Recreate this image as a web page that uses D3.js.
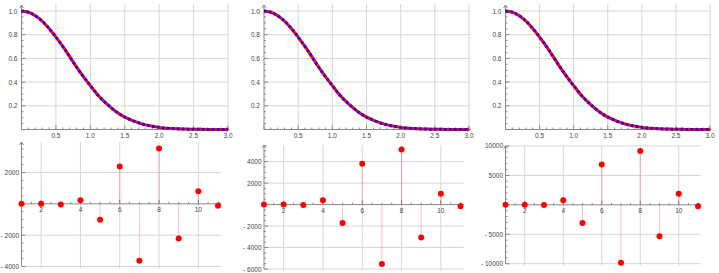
<!DOCTYPE html>
<meta charset="utf-8">
<style>
  body { margin: 0; background: white; }
  .tick-label { font-family: "Liberation Sans", Arial, sans-serif; font-size: 6.5px; fill: #444; }
  .grid { stroke: #d6d6d6; stroke-width: 1; }
  .axis-line { stroke: #888; stroke-width: 1; fill: none; }
</style>
<body>
<script src="https://cdn.jsdelivr.net/npm/d3@7"></script>
<script>

// curve (same in all three)
const curveX = [0, 0.125, 0.25, 0.375, 0.5, 0.625, 0.75, 0.875, 1.0, 1.125, 1.25, 1.375, 1.5, 1.75, 2.0, 2.25, 2.5, 2.75, 3.0]
const curveY = [1.0, 0.985, 0.94, 0.87, 0.78, 0.68, 0.57, 0.465, 0.37, 0.28, 0.21, 0.15, 0.105, 0.047, 0.018, 0.006, 0.002, 0.0005, 0.0001]

// stem values
const stemN = [1, 2, 3, 4, 5, 6, 7, 8, 9, 10, 11]
const seriesA = [0, 0, -40, 230, -1010, 2380, -3640, 3540, -2210, 800, -126]
const seriesB = [0, 0, -30, 406, -1720, 3810, -5530, 5125, -3060, 1000, -156]
const seriesC = [0, 0, -30, 795, -3070, 6870, -9830, 9150, -5340, 1875, -230]

const topXTicks = [0.5, 1.0, 1.5, 2.0, 2.5, 3.0]
const topYTicks = [0.2, 0.4, 0.6, 0.8, 1.0]
const stemXTicks = [2, 4, 6, 8, 10]

const panels = [
  {x0: 21.5, x1: 228, sx1: 218, series: seriesA, yDom: [-4000, 3950], yRange: [266.5, 142],
   yTicks: [-4000, -2000, 2000], yMinor: 500},
  {x0: 264, x1: 469, sx1: 460.5, series: seriesB, yDom: [-6000, 5550], yRange: [269, 145],
   yTicks: [-6000, -4000, -2000, 2000, 4000], yMinor: 500},
  {x0: 505.5, x1: 710, sx1: 698, series: seriesC, yDom: [-10000, 10050], yRange: [263.7, 145.7],
   yTicks: [-10000, -5000, 5000, 10000], yMinor: 1000}
]

const svg = d3.select("body").append("svg")
  .attr("width", 719)
  .attr("height", 273)

const fmt = v => v < 0 ? `- ${Math.abs(v)}` : `${v}`

function arrowUp(g, x, y) {
  g.append("path").attr("class", "axis-line")
    .attr("d", `M${x - 2},${y + 3}L${x},${y}L${x + 2},${y + 3}`)
}
function arrowRight(g, x, y) {
  g.append("path").attr("class", "axis-line")
    .attr("d", `M${x - 3},${y - 2}L${x},${y}L${x - 3},${y + 2}`)
}

panels.forEach(p => {
  // ---- upper plot
  const top = svg.append("g")
  const x = d3.scaleLinear().domain([0, 3]).range([p.x0, p.x1])
  const y = d3.scaleLinear().domain([0, 1]).range([129.5, 11])

  top.selectAll(".vgrid").data(topXTicks).enter().append("line")
    .attr("class", "grid")
    .attr("x1", d => x(d)).attr("x2", d => x(d))
    .attr("y1", 4).attr("y2", 129.5)
  top.selectAll(".hgrid").data(topYTicks).enter().append("line")
    .attr("class", "grid")
    .attr("x1", p.x0).attr("x2", p.x1 + 1)
    .attr("y1", d => y(d)).attr("y2", d => y(d))

  // axes
  top.append("line").attr("class", "axis-line")
    .attr("x1", p.x0).attr("x2", x(3.02)).attr("y1", y(0)).attr("y2", y(0))
  top.append("line").attr("class", "axis-line")
    .attr("x1", p.x0).attr("x2", p.x0).attr("y1", y(0)).attr("y2", 5)
  arrowRight(top, x(3.02), y(0))
  arrowUp(top, p.x0, 5)

  top.selectAll(".xminor").data(d3.range(0, 3.01, 0.1)).enter().append("line")
    .attr("class", "axis-line")
    .attr("x1", d => x(d)).attr("x2", d => x(d))
    .attr("y1", y(0)).attr("y2", d => y(0) - (Math.abs(d * 2 - Math.round(d * 2)) < 1e-6 ? 4 : 2))
  top.selectAll(".yminor").data(d3.range(0, 1.001, 0.05)).enter().append("line")
    .attr("class", "axis-line")
    .attr("y1", d => y(d)).attr("y2", d => y(d))
    .attr("x1", p.x0).attr("x2", d => p.x0 + (Math.abs(d * 5 - Math.round(d * 5)) < 1e-6 ? 4 : 2))

  top.selectAll(".xlab").data(topXTicks).enter().append("text")
    .attr("class", "tick-label")
    .attr("x", d => x(d)).attr("y", 137.5)
    .attr("text-anchor", "middle")
    .text(d => d.toFixed(1))
  top.selectAll(".ylab").data(topYTicks).enter().append("text")
    .attr("class", "tick-label")
    .attr("x", p.x0 - 4).attr("y", d => y(d) + 2.5)
    .attr("text-anchor", "end")
    .text(d => d.toFixed(1))

  const pts = curveX.map((v, i) => [v, curveY[i]])
  const line = d3.line().x(d => x(d[0])).y(d => y(d[1])).curve(d3.curveCatmullRom)
  top.append("path").attr("d", line(pts))
    .attr("fill", "none").attr("stroke", "#ff0000").attr("stroke-width", 3)
  top.append("path").attr("d", line(pts))
    .attr("fill", "none").attr("stroke", "#1010ff").attr("stroke-width", 3)
    .attr("stroke-dasharray", "2.5,2.5")

  // ---- lower stem plot
  const bot = svg.append("g")
  const sx = d3.scaleLinear().domain([1, 11]).range([p.x0, p.sx1])
  const sy = d3.scaleLinear().domain(p.yDom).range(p.yRange)
  const xEnd = sx(11.15)

  bot.selectAll(".vgrid").data(stemXTicks).enter().append("line")
    .attr("class", "grid")
    .attr("x1", d => sx(d)).attr("x2", d => sx(d))
    .attr("y1", p.yRange[1]).attr("y2", p.yRange[0] + 2)
  bot.selectAll(".hgrid").data(p.yTicks).enter().append("line")
    .attr("class", "grid")
    .attr("x1", p.x0).attr("x2", xEnd)
    .attr("y1", d => sy(d)).attr("y2", d => sy(d))

  bot.append("line").attr("class", "axis-line")
    .attr("x1", p.x0).attr("x2", xEnd).attr("y1", sy(0)).attr("y2", sy(0))
  bot.append("line").attr("class", "axis-line")
    .attr("x1", p.x0).attr("x2", p.x0).attr("y1", p.yRange[0]).attr("y2", p.yRange[1])
  arrowRight(bot, xEnd, sy(0))
  arrowUp(bot, p.x0, p.yRange[1])

  bot.selectAll(".xminor").data(d3.range(1, 11.01, 0.5)).enter().append("line")
    .attr("class", "axis-line")
    .attr("x1", d => sx(d)).attr("x2", d => sx(d))
    .attr("y1", sy(0)).attr("y2", d => sy(0) - (d % 2 === 0 ? 4 : 2))
  bot.selectAll(".yminor").data(d3.range(p.yDom[0], p.yDom[1], p.yMinor)).enter().append("line")
    .attr("class", "axis-line")
    .attr("y1", d => sy(d)).attr("y2", d => sy(d))
    .attr("x1", p.x0).attr("x2", d => p.x0 + (p.yTicks.includes(d) ? 4 : 2))

  bot.selectAll(".xlab").data(stemXTicks).enter().append("text")
    .attr("class", "tick-label")
    .attr("x", d => sx(d)).attr("y", sy(0) + 8.5)
    .attr("text-anchor", "middle")
    .text(d => d)
  bot.selectAll(".ylab").data(p.yTicks).enter().append("text")
    .attr("class", "tick-label")
    .attr("x", p.x0 - 2.5).attr("y", d => sy(d) + 2.5)
    .attr("text-anchor", "end")
    .text(fmt)

  const stems = stemN.map((n, i) => ({n: n, v: p.series[i]}))
  bot.selectAll(".stem").data(stems).enter().append("line")
    .attr("x1", d => sx(d.n)).attr("x2", d => sx(d.n))
    .attr("y1", sy(0)).attr("y2", d => sy(d.v))
    .attr("stroke", "#ff0000").attr("stroke-opacity", 0.25).attr("stroke-width", 1)
  bot.selectAll(".dot").data(stems).enter().append("circle")
    .attr("cx", d => sx(d.n)).attr("cy", d => sy(d.v))
    .attr("r", 3).attr("fill", "#ff0000")
})

</script>
</body>
</html>
